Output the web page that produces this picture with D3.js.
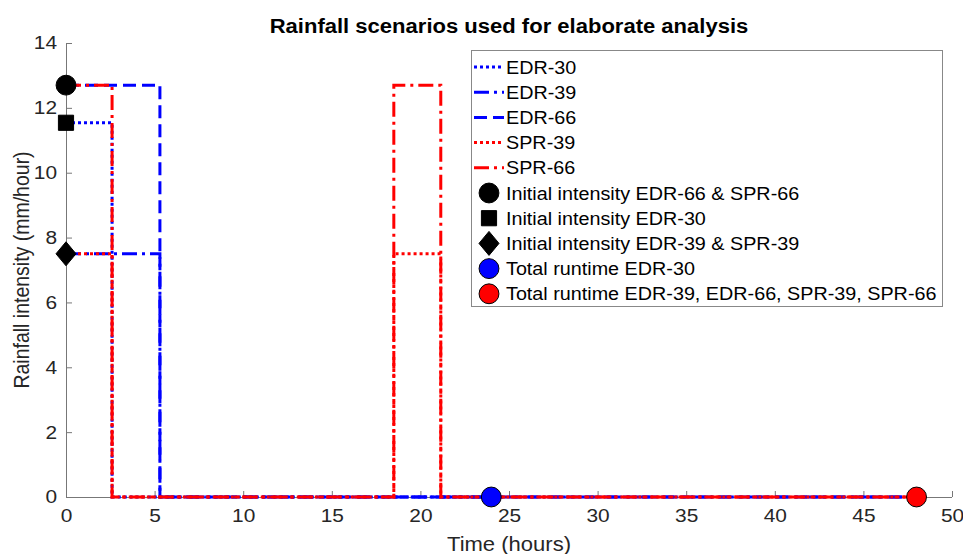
<!DOCTYPE html>
<html><head><meta charset="utf-8">
<script src="https://cdn.jsdelivr.net/npm/d3@7"></script>
<style>body{margin:0;background:#fff;} text{font-family:"Liberation Sans",Arial,Helvetica,sans-serif;}</style>
</head><body><svg id="c" width="963" height="554"></svg>
<script>
// Data
const seriesNames = ["EDR-30","EDR-39","EDR-66","SPR-39","SPR-66"];
const edr30Time = [0, 2.6, 24];
const edr30Val  = [11.54, 0, 0];
const edr39Time = [0, 5.3, 48];
const edr39Val  = [7.5, 0, 0];
const edr66Time = [0, 5.3, 48];
const edr66Val  = [12.7, 0, 0];
const spr39Time = [0, 2.6, 18.5, 21.15, 48];
const spr39Val  = [7.5, 0, 7.5, 0, 0];
const spr66Time = [0, 2.6, 18.5, 21.15, 48];
const spr66Val  = [12.7, 0, 12.7, 0, 0];
const markerNames = ["Initial intensity EDR-66 & SPR-66","Initial intensity EDR-30","Initial intensity EDR-39 & SPR-39","Total runtime EDR-30","Total runtime EDR-39, EDR-66, SPR-39, SPR-66"];
const markerX = [0, 0, 0, 24, 48];
const markerY = [12.7, 11.54, 7.5, 0, 0];
const xTicks = [0,5,10,15,20,25,30,35,40,45,50];
const yTicks = [0,2,4,6,8,10,12,14];

const svg = d3.select("#c");
const L = 66, R = 952, T = 43, B = 497;
const x = d3.scaleLinear().domain([0,50]).range([L,R]);
const y = d3.scaleLinear().domain([0,14]).range([B,T]);
const axisCol = "#262626";
const SX = 1.13;

const series = [
  {t:edr30Time, v:edr30Val, color:"#0000ff", dash:"3,3"},
  {t:edr39Time, v:edr39Val, color:"#0000ff", dash:"15,5,3,5"},
  {t:edr66Time, v:edr66Val, color:"#0000ff", dash:"13,6"},
  {t:spr39Time, v:spr39Val, color:"#ff0000", dash:"3,3"},
  {t:spr66Time, v:spr66Val, color:"#ff0000", dash:"15,5,3,5"}
];
const markerStyle = [
  {shape:d3.symbolCircle, size:310, fill:"#000"},
  {shape:d3.symbolSquare, size:230, fill:"#000"},
  {shape:"diamond", fill:"#000"},
  {shape:d3.symbolCircle, size:310, fill:"#0000ff"},
  {shape:d3.symbolCircle, size:310, fill:"#ff0000"}
];

// axes
const gx = svg.append("g").attr("transform",`translate(0,${B})`)
  .call(d3.axisBottom(x).tickValues(xTicks).tickSize(-6).tickPadding(12));
const gy = svg.append("g").attr("transform",`translate(${L},0)`)
  .call(d3.axisLeft(y).tickValues(yTicks).tickSize(-6).tickPadding(9));
[gx,gy].forEach(g=>{
  g.selectAll("path").attr("stroke","#777").attr("stroke-width",1);
  g.selectAll("line").attr("stroke","#777");
  g.selectAll("text").attr("fill",axisCol).style("font-size","18.5px")
    .style("font-family","Liberation Sans, Arial, sans-serif")
    .attr("transform",`scale(${SX},1)`);
});
gy.selectAll("text").attr("x",-9/SX);
gx.select(".domain").attr("d",`M${L},0.5H${R}`);
gy.select(".domain").attr("d",`M0.5,${B}V${T}`);

// lines
const line = d3.line().x(d=>x(d[0])).y(d=>y(d[1])).curve(d3.curveStepAfter);
series.forEach(s=>{
  const pts = s.t.map((t,i)=>[t,s.v[i]]);
  svg.append("path").attr("d",line(pts)).attr("fill","none")
    .attr("stroke",s.color).attr("stroke-width",3).attr("stroke-dasharray",s.dash);
});

function drawMarker(g, st, cx, cy){
  if(st.shape==="diamond"){
    g.append("path").attr("d",`M${cx},${cy-12}L${cx+10},${cy}L${cx},${cy+12}L${cx-10},${cy}Z`).attr("fill",st.fill).attr("stroke","#000").attr("stroke-width",1);
  } else {
    g.append("path").attr("d",d3.symbol().type(st.shape).size(st.size)()).attr("transform",`translate(${cx},${cy})`)
      .attr("fill",st.fill).attr("stroke","#000").attr("stroke-width",1);
  }
}
markerX.forEach((mx,i)=>drawMarker(svg, markerStyle[i], x(mx), y(markerY[i])));

function txt(g, tx, ty, s, size, opts={}){
  const t = g.append("text")
    .attr("transform",`translate(${tx},${ty}) scale(${SX},1)`)
    .attr("text-anchor",opts.anchor||"start").style("font-size",size+"px")
    .attr("fill",opts.fill||"#000").text(s);
  if(opts.bold) t.style("font-weight","bold");
  return t;
}

// title & labels
txt(svg,(L+R)/2,33,"Rainfall scenarios used for elaborate analysis",19.5,{anchor:"middle",bold:true});
txt(svg,(L+R)/2,551,"Time (hours)",19.5,{anchor:"middle",fill:axisCol});
svg.append("text").attr("transform",`translate(29,${(T+B)/2}) rotate(-90) scale(1,${SX})`).attr("text-anchor","middle")
  .style("font-size","19.5px").attr("fill",axisCol).text("Rainfall intensity (mm/hour)");

// legend
const lg = svg.append("g");
lg.append("rect").attr("x",471.5).attr("y",50.5).attr("width",471).attr("height",256)
  .attr("fill","#fff").attr("stroke","#888").attr("stroke-width",1);
const rowY = i => 67 + i*25.2;
series.forEach((s,i)=>{
  lg.append("line").attr("x1",474).attr("x2",504).attr("y1",rowY(i)).attr("y2",rowY(i))
    .attr("stroke",s.color).attr("stroke-width",3).attr("stroke-dasharray",s.dash);
  txt(lg,506,rowY(i)+6.5,seriesNames[i],17.5);
});
markerNames.forEach((n,j)=>{
  const i = j+5;
  drawMarker(lg, markerStyle[j], 489, rowY(i));
  txt(lg,506,rowY(i)+6.5,n,17.5);
});
</script></body></html>
